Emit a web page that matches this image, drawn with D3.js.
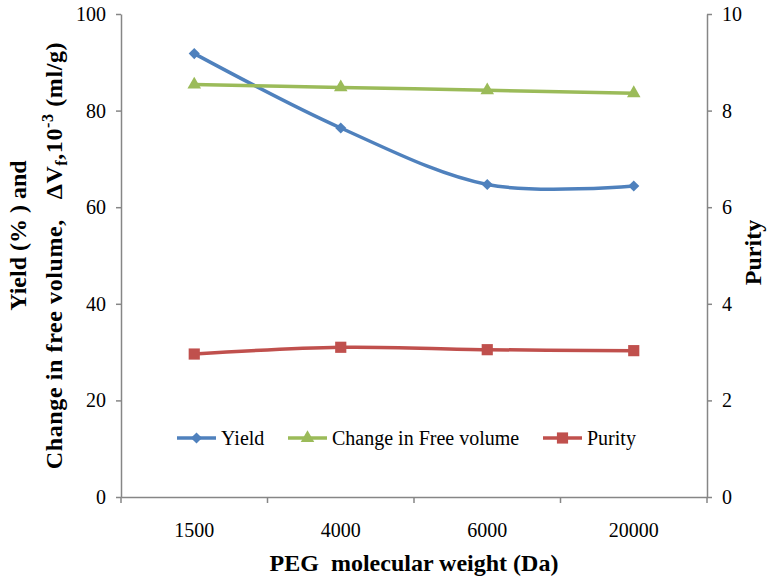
<!DOCTYPE html>
<html>
<head>
<meta charset="utf-8">
<script src="https://cdn.jsdelivr.net/npm/d3@7"></script>
<style>
	body { margin: 0; background: #fff; }
	svg text { font-family: "Liberation Serif", Tinos, "Times New Roman", "DejaVu Serif", serif; fill: #000; }
	.axis path, .axis line { stroke: #868686; stroke-width: 1.5; }
	.axis text { font-size: 20px; }
</style>
</head>
<body>
<div id="chart"></div>
<script>
// values
var categories = ["1500", "4000", "6000", "20000"];
var yieldValues = [91.8, 76.4, 64.7, 64.4];
var freeVolumeValues = [85.4, 84.8, 84.2, 83.6];
var purityValues = [2.96, 3.10, 3.05, 3.03];
var leftTicks = [0, 20, 40, 60, 80, 100];
var rightTicks = [0, 2, 4, 6, 8, 10];

var width = 773, height = 578;
var margins = { left: 121, right: 66, top: 14, bottom: 81 };
var serif = "'Liberation Serif', Tinos, 'Times New Roman', 'DejaVu Serif', serif";

var svg = d3.select("#chart")
	.append("svg")
	.attr("width", width)
	.attr("height", height)
	.attr("font-family", serif);

var x = d3.scaleBand()
	.domain(categories)
	.range([margins.left, width - margins.right]);
var yLeft = d3.scaleLinear()
	.domain([0, 100])
	.range([height - margins.bottom, margins.top]);
var yRight = d3.scaleLinear()
	.domain([0, 10])
	.range([height - margins.bottom, margins.top]);

var series = [
	{ name: "Yield", values: yieldValues, scale: yLeft, color: "#4F81BD", symbol: "diamond" },
	{ name: "Change in Free volume", values: freeVolumeValues, scale: yLeft, color: "#9BBB59", symbol: "triangle" },
	{ name: "Purity", values: purityValues, scale: yRight, color: "#C0504D", symbol: "square" }
];

// axes
svg.append("g")
	.attr("class", "axis")
	.attr("transform", "translate(" + margins.left + ",0)")
	.call(d3.axisLeft(yLeft).tickValues(leftTicks).tickSize(5).tickPadding(10).tickSizeOuter(0));
svg.append("g")
	.attr("class", "axis")
	.attr("transform", "translate(" + (width - margins.right) + ",0)")
	.call(d3.axisRight(yRight).tickValues(rightTicks).tickSize(5).tickPadding(10).tickSizeOuter(0));

var xAxis = svg.append("g")
	.attr("class", "axis")
	.attr("transform", "translate(0," + (height - margins.bottom) + ")")
	.call(d3.axisBottom(x).tickSize(0).tickPadding(26).tickSizeOuter(0));
// Excel-style ticks sit between the categories
var bounds = categories.map(function(d) { return x(d); }).concat([x.range()[1]]);
xAxis.selectAll(".bound")
	.data(bounds)
	.enter()
	.append("line")
	.attr("class", "bound")
	.attr("x1", function(d) { return d; })
	.attr("x2", function(d) { return d; })
	.attr("y1", 0)
	.attr("y2", 6);
svg.selectAll(".axis").attr("font-family", serif);

// lines
var symbolFor = function(name) {
	if (name == "diamond") return { path: d3.symbol().type(d3.symbolSquare).size(62)(), rotate: 45 };
	if (name == "triangle") return { path: d3.symbol().type(d3.symbolTriangle).size(80)(), rotate: 0 };
	return { path: d3.symbol().type(d3.symbolSquare).size(125)(), rotate: 0 };
};

series.forEach(function(s) {
	var line = d3.line()
		.x(function(d, i) { return x(categories[i]) + x.bandwidth() / 2; })
		.y(function(d) { return s.scale(d); })
		.curve(d3.curveCatmullRom.alpha(0));
	svg.append("path")
		.datum(s.values)
		.attr("d", line)
		.attr("fill", "none")
		.attr("stroke", s.color)
		.attr("stroke-width", 3.5);
	var sym = symbolFor(s.symbol);
	svg.selectAll(".pt-" + s.symbol)
		.data(s.values)
		.enter()
		.append("path")
		.attr("class", "pt-" + s.symbol)
		.attr("d", sym.path)
		.attr("fill", s.color)
		.attr("transform", function(d, i) {
			return "translate(" + (x(categories[i]) + x.bandwidth() / 2) + "," + s.scale(d) + ") rotate(" + sym.rotate + ")";
		});
});

// legend
var legendY = 438;
var legendX = [177, 288, 543];
var legend = svg.selectAll(".legendItem")
	.data(series)
	.enter()
	.append("g")
	.attr("class", "legendItem")
	.attr("transform", function(d, i) { return "translate(" + legendX[i] + "," + legendY + ")"; });
legend.append("line")
	.attr("x1", 0)
	.attr("x2", 39)
	.attr("stroke", function(d) { return d.color; })
	.attr("stroke-width", 3.5);
legend.append("path")
	.attr("d", function(d) { return symbolFor(d.symbol).path; })
	.attr("transform", function(d) { return "translate(19.5,0) rotate(" + symbolFor(d.symbol).rotate + ")"; })
	.attr("fill", function(d) { return d.color; });
legend.append("text")
	.attr("x", 44)
	.attr("y", 7)
	.style("font-size", "20px")
	.text(function(d) { return d.name; });

// titles
svg.append("text")
	.attr("x", (margins.left + width - margins.right) / 2)
	.attr("y", 571)
	.attr("text-anchor", "middle")
	.style("font-size", "24px")
	.style("font-weight", "bold")
	.style("white-space", "pre")
	.text("PEG  molecular weight (Da)");

var yMid = (margins.top + height - margins.bottom) / 2;
svg.append("text")
	.attr("transform", "translate(26," + (yMid - 20) + ") rotate(-90)")
	.attr("text-anchor", "middle")
	.style("font-size", "24px")
	.style("font-weight", "bold")
	.style("white-space", "pre")
	.text("Yield (% ) and");

var t2 = svg.append("text")
	.attr("transform", "translate(62," + yMid + ") rotate(-90)")
	.attr("text-anchor", "middle")
	.style("font-size", "24px")
	.style("font-weight", "bold")
	.style("letter-spacing", "0.6px")
	.style("white-space", "pre");
t2.append("tspan").text("Change in free volume,   \u0394V");
t2.append("tspan").attr("dy", 5).style("font-size", "16px").text("f");
t2.append("tspan").attr("dy", -5).text(",10");
t2.append("tspan").attr("dy", -9).style("font-size", "16px").text("-3");
t2.append("tspan").attr("dy", 9).text(" (ml/g)");

svg.append("text")
	.attr("transform", "translate(761," + (yMid - 3) + ") rotate(-90)")
	.attr("text-anchor", "middle")
	.style("font-size", "24px")
	.style("font-weight", "bold")
	.text("Purity");
</script>
</body>
</html>
